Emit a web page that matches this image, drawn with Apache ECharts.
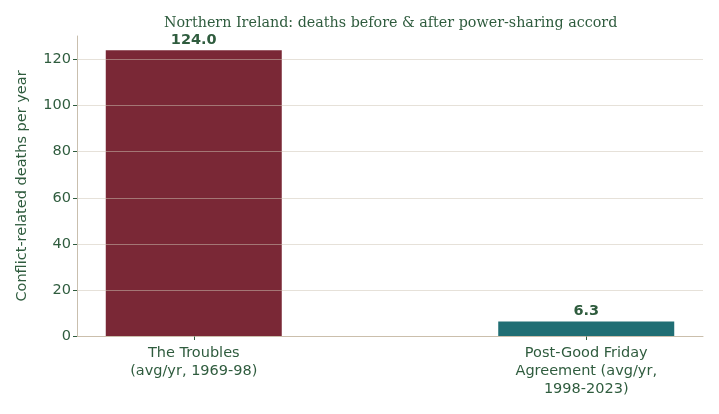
<!DOCTYPE html>
<html><head><meta charset="utf-8">
<script src="https://cdn.jsdelivr.net/npm/echarts@6/dist/echarts.min.js"></script>
<style>html,body{margin:0;padding:0;background:#fff}#c{width:719px;height:414px}</style>
</head><body><div id="c"></div>
<script>
const categories = ["The Troubles\n(avg/yr, 1969-98)", "Post-Good Friday\nAgreement (avg/yr,\n1998-2023)"];
const deaths = [124.0, 6.3];
const barColors = ["#7a2836", "#206e74"];
const yTicks = [0, 20, 40, 60, 80, 100, 120];

const textColor = "#2f5c3e";
const chart = echarts.init(document.getElementById('c'), null, {renderer: 'canvas'});
chart.setOption({
  backgroundColor: '#ffffff',
  animation: false,
  title: {
    text: 'Northern Ireland: deaths before & after power-sharing accord',
    left: 159, top: 11,
    textStyle: {fontFamily: 'DejaVu Serif', fontSize: 14.3, fontWeight: 'normal', color: textColor}
  },
  grid: {left: 77, right: 16, top: 36, bottom: 78},
  xAxis: {
    type: 'value', min: -0.2975, max: 1.2975,
    axisLine: {show: true, onZero: false, lineStyle: {color: '#c9bba5', width: 1}},
    axisTick: {show: true, customValues: [0, 1], length: 4, lineStyle: {color: textColor}},
    axisLabel: {customValues: [0, 1], formatter: v => categories[Math.round(v)] || '',
      fontFamily: 'DejaVu Sans', fontSize: 14.5, color: textColor, lineHeight: 18, margin: 8},
    splitLine: {show: false}
  },
  yAxis: {
    type: 'value', min: 0, max: 130.2, z: 10,
    name: 'Conflict-related deaths per year', nameLocation: 'middle', nameGap: 47,
    nameTextStyle: {fontFamily: 'DejaVu Sans', fontSize: 14.5, color: textColor},
    axisLine: {show: true, onZero: false, lineStyle: {color: '#c9bfae', width: 1}},
    axisTick: {show: true, customValues: yTicks, length: 4, lineStyle: {color: textColor}},
    axisLabel: {customValues: yTicks, fontFamily: 'DejaVu Sans', fontSize: 14.5, color: textColor, margin: 6},
    splitLine: {show: true, lineStyle: {color: 'rgba(205,195,180,0.5)', width: 1}}
  },
  series: [{
    type: 'bar', barWidth: 176,
    data: deaths.map((v, i) => ({value: [i, v], itemStyle: {color: barColors[i]}})),
    label: {show: true, position: 'top', distance: 3, formatter: p => p.value[1].toFixed(1),
      fontFamily: 'DejaVu Sans', fontSize: 14.5, fontWeight: 'bold', color: textColor}
  }]
});
</script></body></html>
